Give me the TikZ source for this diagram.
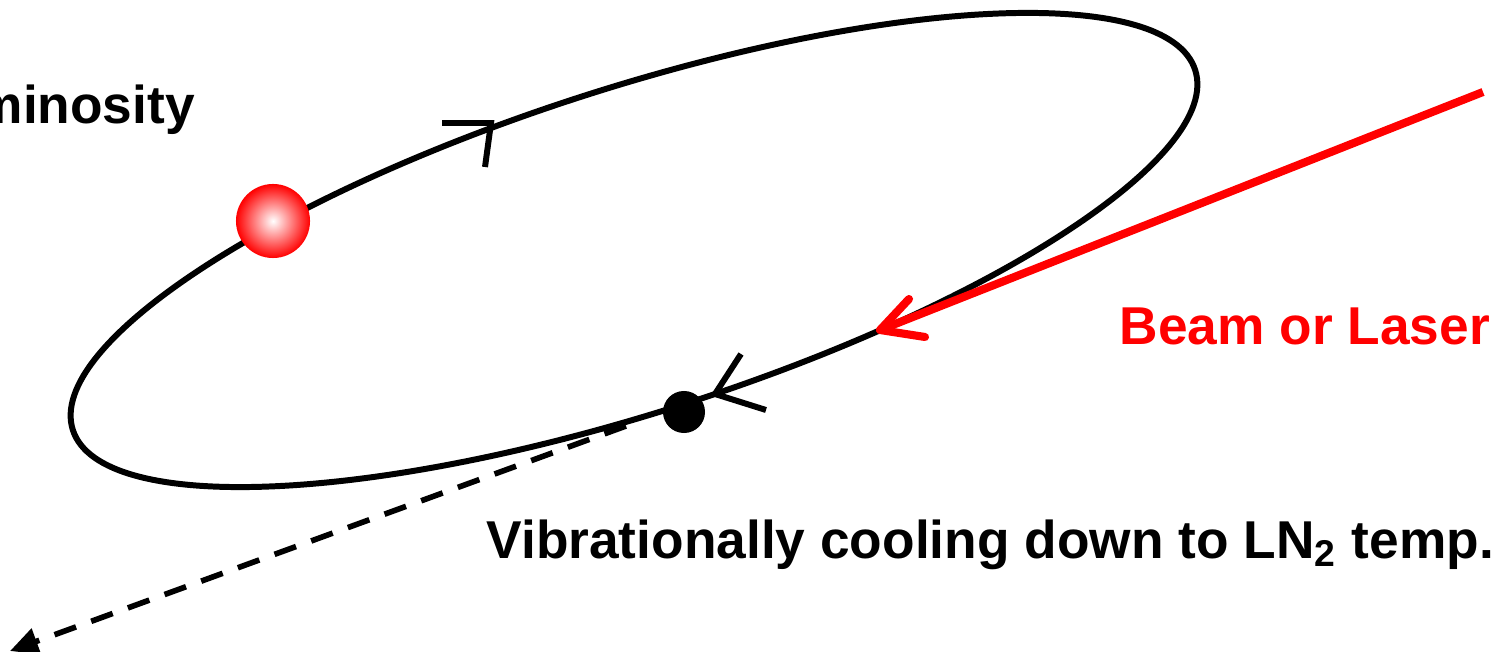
\documentclass[tikz,border=0pt]{standalone}
\usepackage{fontspec}
\setmainfont{Liberation Sans}
\usetikzlibrary{arrows.meta}
\begin{document}
\begin{tikzpicture}[x=0.01cm,y=-0.01cm,
  orbit/.style={line width=1.7pt, black},
  lbl/.style={font=\bfseries\fontsize{15.15}{18}\selectfont, inner sep=0pt, anchor=base west},
  laser/.style={line width=2.3pt, red},
  dashline/.style={line width=1.6pt, dash pattern=on 6.5pt off 4.6pt, -{Triangle[length=8pt,width=7.5pt]}}]
\useasboundingbox (0,0) rectangle (1500,652);

% orbit
\draw[orbit, rotate around={17.78:(634,250)}] (634,250) ellipse [x radius=5.89cm, y radius=1.62cm];

% direction chevrons
\draw[orbit] (442,123) -- (491,123) -- (485,167);
\draw[orbit] (741,354) -- (715,394) -- (766,410);

% particles
\node[circle, minimum size=0.74cm, inner sep=0pt, inner color=white, outer color=red] (ball) at (273,221) {};
\node[circle, fill=black, minimum size=0.42cm, inner sep=0pt] (dot) at (684,412) {};

% beam / laser
\coordinate (laserstart) at (1483,92);
\coordinate (lasertip) at (880,330);
\coordinate (barbA) at (909,299);
\coordinate (barbB) at (925,337);
\draw[laser] (laserstart) -- (lasertip);
\draw[laser, line cap=round, line join=round] (barbA) -- (lasertip) -- (barbB);

% ejected molecule
\coordinate (dstart) at (626,426);
\coordinate (dend) at (10,651);
\draw[dashline] (dstart) -- (dend);

% labels
\node[lbl] (lum) at (-25,124) {minosity};
\node[lbl, text=red] (beam) at (1119,345) {Beam or Laser};
\node[lbl] (vib) at (486,558) {Vibrationally cooling down to LN\textsubscript{2} temp.};
\end{tikzpicture}
\end{document}
